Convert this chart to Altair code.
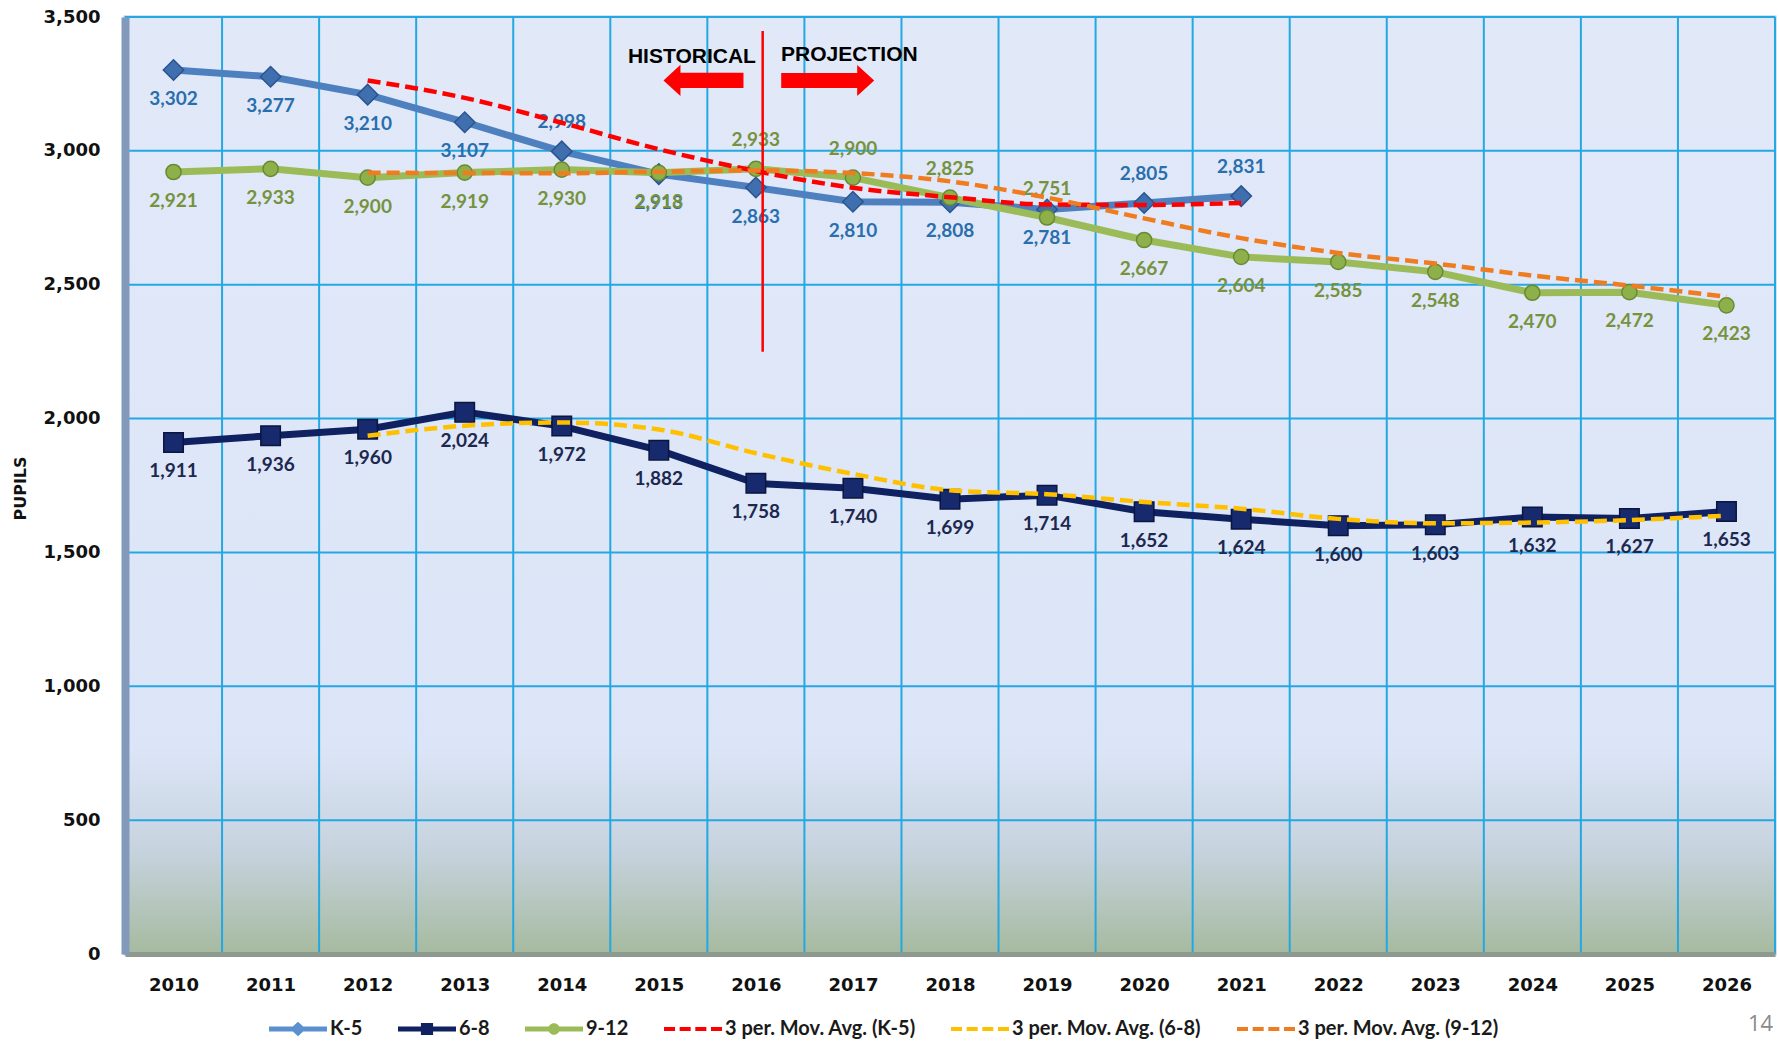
import altair as alt
import pandas as pd

# ---------------- data ----------------
YEARS = list(range(2010, 2027))
K5_YEARS = list(range(2010, 2022))
K5 = [3302, 3277, 3210, 3107, 2998, 2913, 2863, 2810, 2808, 2781, 2805, 2831]
G68 = [1911, 1936, 1960, 2024, 1972, 1882, 1758, 1740, 1699, 1714, 1652, 1624,
       1600, 1603, 1632, 1627, 1653]
G912 = [2921, 2933, 2900, 2919, 2930, 2918, 2933, 2900, 2825, 2751, 2667, 2604,
        2585, 2548, 2470, 2472, 2423]
SERIES_MAIN = ["K-5", "6-8", "9-12"]
SERIES_MA = ["3 per. Mov. Avg. (K-5)", "3 per. Mov. Avg. (6-8)", "3 per. Mov. Avg. (9-12)"]
Y_TICKS = [0, 500, 1000, 1500, 2000, 2500, 3000, 3500]
X_DOMAIN = [2009.5, 2026.5]
Y_DOMAIN = [0, 3500]

# years whose data label sits above the point (others below)
K5_LABEL_ABOVE = [2014, 2020, 2021]
G912_LABEL_ABOVE = [2016, 2017, 2018, 2019]
G68_LABEL_ABOVE = []

# annotations (data units)
DIVIDER = {"x": 2016.07, "y": 3448, "y2": 2250}
HIST = {"x": 2016.0, "y": 3351, "label": "HISTORICAL"}
PROJ = {"x": 2016.26, "y": 3358, "label": "PROJECTION"}
ARROW_L = {"x": 2015.46, "y": 3263}
ARROW_R = {"x": 2016.74, "y": 3263}
PAGE_NUMBER = "14"

# ---------------- layout / style ----------------
PLOT_W, PLOT_H = 1650, 937
LEFT, TOP = 125, 17

GRID = "#23a8e2"
K5_LINE, K5_MARK, K5_TEXT = "#4e80c0", "#3f6fae", "#2a6ead"
G68_LINE, G68_MARK, G68_TEXT = "#0f2160", "#172a6e", "#1c2850"
G912_LINE, G912_MARK, G912_TEXT = "#9bbb59", "#8db04a", "#76923c"
MA_COLORS = ["#ff0000", "#ffc000", "#f07c20"]

rows = []
for name, yrs, vals in [("K-5", K5_YEARS, K5), ("6-8", YEARS, G68), ("9-12", YEARS, G912)]:
    for yr, v in zip(yrs, vals):
        rows.append({"series": name, "year": yr, "value": v})
df = pd.DataFrame(rows)

XSCALE = alt.Scale(domain=X_DOMAIN, nice=False, zero=False)
YSCALE = alt.Scale(domain=Y_DOMAIN, nice=False)
XAXIS = alt.Axis(values=YEARS, format="d", grid=False, ticks=False, tickSize=0,
                 labelFont="DejaVu Sans", labelFontWeight="bold", labelFontSize=18,
                 labelColor="#111111", labelPadding=22, labelFlush=False,
                 domain=True, domainColor="#8c9a8f", domainWidth=5, title=None, zindex=1)
YAXIS = alt.Axis(values=Y_TICKS, format=",d", grid=False,
                 ticks=False, tickSize=0, labelFont="DejaVu Sans", labelFontWeight="bold",
                 labelFontSize=18, labelColor="#111111", labelPadding=25,
                 domain=True, domainColor="#8299bb", domainWidth=8, zindex=1,
                 title="PUPILS", titleFont="DejaVu Sans", titleFontWeight="bold",
                 titleFontSize=16, titleColor="#111111", titleX=20 - LEFT,
                 titleY=488 - TOP, titleAlign="center", titleBaseline="middle",
                 titleAngle=270)


def X(field="year:Q"):
    return alt.X(field, scale=XSCALE, axis=XAXIS)


def Y(field="value:Q"):
    return alt.Y(field, scale=YSCALE, axis=YAXIS)


base = alt.Chart(df)
layers = []

# plot-area background with a soft gradient towards the bottom
bg_gradient = alt.Gradient(
    gradient="linear", x1=0, y1=0, x2=0, y2=1,
    stops=[alt.GradientStop(color="#e1e9f9", offset=0),
           alt.GradientStop(color="#dce5f7", offset=0.78),
           alt.GradientStop(color="#c6d3de", offset=0.89),
           alt.GradientStop(color="#a6ba9f", offset=1)])
layers.append(alt.Chart(pd.DataFrame({"k": [0]})).mark_rect(color=bg_gradient).encode(
    x=alt.value(0), x2=alt.value(PLOT_W), y=alt.value(0), y2=alt.value(PLOT_H)))

# grid lines (horizontal at y ticks, vertical between the year categories)
layers.append(alt.Chart(pd.DataFrame({"tick": Y_TICKS})).mark_rule(color=GRID, strokeWidth=2)
              .encode(y=Y("tick:Q")))
layers.append(alt.Chart(pd.DataFrame({"year": YEARS}))
              .transform_calculate(edge="datum.year + 0.5")
              .mark_rule(color=GRID, strokeWidth=2)
              .encode(x=X("edge:Q")))

spec = [
    ("K-5", K5_LINE, K5_MARK, "#2b558f", "diamond", 420, K5_TEXT, K5_LABEL_ABOVE),
    ("6-8", G68_LINE, G68_MARK, "#0a1540", "square", 380, G68_TEXT, G68_LABEL_ABOVE),
    ("9-12", G912_LINE, G912_MARK, "#6a8a32", "circle", 230, G912_TEXT, G912_LABEL_ABOVE),
]

for name, lc, mc, sc, shp, sz, tc, above in spec:
    sel = base.transform_filter(alt.datum.series == name)
    layers.append(sel.mark_line(color=lc, strokeWidth=7).encode(x=X(), y=Y()))
    layers.append(sel.mark_point(shape=shp, size=sz, filled=True, fill=mc, stroke=sc,
                                 strokeWidth=1.5, opacity=1).encode(x=X(), y=Y()))

for name, lc, mc, sc, shp, sz, tc, above in spec:
    sel = base.transform_filter(alt.datum.series == name)
    txt = dict(font="Lato", fontWeight="bold", fontSize=19, color=tc, baseline="middle")
    if above:
        layers.append(sel.transform_filter(alt.FieldOneOfPredicate(field="year", oneOf=above))
                      .mark_text(dy=-29, **txt)
                      .encode(x=X(), y=Y(), text=alt.Text("value:Q", format=",d")))
        layers.append(sel.transform_filter(
            alt.LogicalNotPredicate(**{"not": alt.FieldOneOfPredicate(field="year", oneOf=above)}))
                      .mark_text(dy=29, **txt)
                      .encode(x=X(), y=Y(), text=alt.Text("value:Q", format=",d")))
    else:
        layers.append(sel.mark_text(dy=29, **txt)
                      .encode(x=X(), y=Y(), text=alt.Text("value:Q", format=",d")))

# 3-period moving averages
for name, col in zip(SERIES_MAIN, MA_COLORS):
    layers.append(
        base.transform_filter(alt.datum.series == name)
        .transform_window(ma="mean(value)", n="count()", frame=[-2, 0],
                          sort=[alt.SortField("year")])
        .transform_filter("datum.n == 3")
        .mark_line(color=col, strokeWidth=4.5, strokeDash=[13, 6], interpolate="monotone")
        .encode(x=X(), y=Y("ma:Q"))
    )

# annotations
ann = alt.Chart(pd.DataFrame([DIVIDER]))
layers.append(ann.mark_rule(color="#ff0000", strokeWidth=2.5)
              .encode(x=X("x:Q"), y=Y("y:Q"), y2="y2:Q"))
txt_style = dict(font="Liberation Sans", fontWeight="bold", fontSize=21, color="#000000",
                 baseline="middle")
layers.append(alt.Chart(pd.DataFrame([HIST])).mark_text(align="right", **txt_style)
              .encode(x=X("x:Q"), y=Y("y:Q"), text="label:N"))
layers.append(alt.Chart(pd.DataFrame([PROJ])).mark_text(align="left", **txt_style)
              .encode(x=X("x:Q"), y=Y("y:Q"), text="label:N"))
LEFT_ARROW = "M1,-0.19L-0.575,-0.19L-0.575,-0.39L-1,0L-0.575,0.39L-0.575,0.19L1,0.19Z"
RIGHT_ARROW = "M-1,-0.161L0.634,-0.161L0.634,-0.333L1,0L0.634,0.333L0.634,0.161L-1,0.161Z"
layers.append(alt.Chart(pd.DataFrame([ARROW_L])).mark_point(
    shape=LEFT_ARROW, size=80 * 80, filled=True, color="#ff0000", opacity=1, strokeWidth=0)
    .encode(x=X("x:Q"), y=Y("y:Q")))
layers.append(alt.Chart(pd.DataFrame([ARROW_R])).mark_point(
    shape=RIGHT_ARROW, size=93 * 93, filled=True, color="#ff0000", opacity=1, strokeWidth=0)
    .encode(x=X("x:Q"), y=Y("y:Q")))

# page number
layers.append(alt.Chart(pd.DataFrame({"t": [PAGE_NUMBER]})).mark_text(
    font="Open Sans", fontSize=22, color="#8a8a8a", align="left", baseline="middle")
    .encode(x=alt.value(1748 - LEFT), y=alt.value(1024 - TOP), text="t:N"))

# legend (symbols drawn by the legend itself)
LINE = "M-1,-0.085L1,-0.085L1,0.085L-1,0.085Z"
DASHES = ("M-1,-0.07L-0.62,-0.07L-0.62,0.07L-1,0.07Z"
          "M-0.46,-0.07L-0.08,-0.07L-0.08,0.07L-0.46,0.07Z"
          "M0.08,-0.07L0.46,-0.07L0.46,0.07L0.08,0.07Z"
          "M0.62,-0.07L1,-0.07L1,0.07L0.62,0.07Z")
LEG_SHAPES = [
    LINE + "M0,-0.25L0.27,0L0,0.25L-0.27,0Z",
    LINE + "M-0.21,-0.21L0.21,-0.21L0.21,0.21L-0.21,0.21Z",
    LINE + "M-0.2,0A0.2,0.2 0 1,1 0.2,0A0.2,0.2 0 1,1 -0.2,0Z",
    DASHES, DASHES, DASHES,
]
LEG_COLORS = ["#5a8fd0", G68_LINE, G912_LINE] + MA_COLORS
ALL_SERIES = SERIES_MAIN + SERIES_MA
legend = alt.Legend(orient="none", legendX=269 - LEFT, legendY=1029 - TOP - 29,
                    direction="horizontal", columns=6, title=None, padding=0,
                    symbolSize=58 * 58, symbolStrokeWidth=0, labelOffset=3,
                    columnPadding=35, labelFont="Lato", labelFontWeight="bold",
                    labelFontSize=20, labelColor="#1a1a1a", labelLimit=400)
layers.append(
    alt.Chart(pd.DataFrame({"series": ALL_SERIES}))
    .transform_filter("false")
    .mark_point(filled=True, opacity=1)
    .encode(
        color=alt.Color("series:N", scale=alt.Scale(domain=ALL_SERIES, range=LEG_COLORS),
                        legend=legend),
        shape=alt.Shape("series:N", scale=alt.Scale(domain=ALL_SERIES, range=LEG_SHAPES),
                        legend=legend),
    )
)

chart = (
    alt.layer(*layers)
    .properties(width=PLOT_W, height=PLOT_H, autosize=alt.AutoSizeParams(type="none"),
                padding={"left": LEFT, "top": TOP, "right": 1779 - LEFT - PLOT_W,
                         "bottom": 1041 - TOP - PLOT_H},
                background="#ffffff")
    .configure_view(stroke="#a9c6ea", strokeWidth=3)
)

chart.save("out.html", embed_options={"renderer": "svg", "actions": False})
